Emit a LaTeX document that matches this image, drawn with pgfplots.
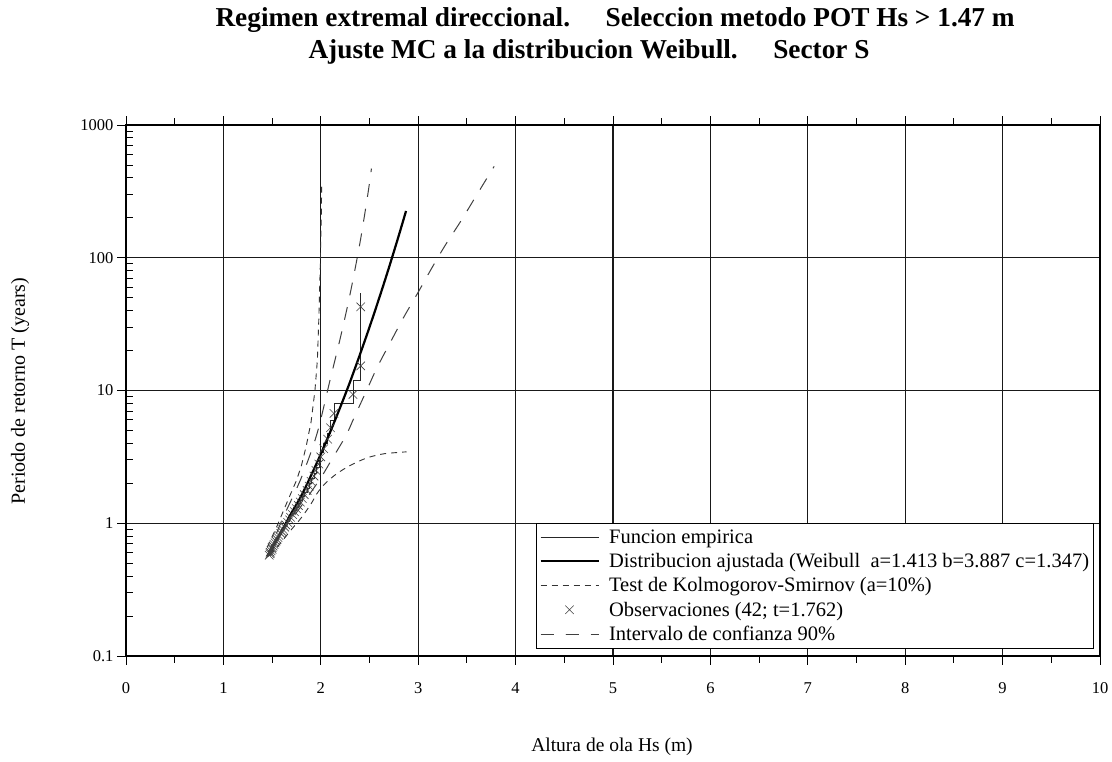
\documentclass[border=0pt]{standalone}
\usepackage{fontspec}
\setmainfont{Liberation Serif}
\usepackage{pgfplots}
\pgfplotsset{compat=1.18}
\begin{document}
\begin{tikzpicture}[x=1pt,y=1pt]
\useasboundingbox (-126,-106) rectangle (986,656);
\begin{axis}[
  at={(0,0)}, anchor=south west,
  width=974pt, height=531pt, scale only axis,
  xmin=0, xmax=10, ymin=0.1, ymax=1000, ymode=log,
  xtick={0,1,...,10}, xticklabels={0,1,2,3,4,5,6,7,8,9,10},
  minor xtick={0.5,1.5,...,9.5},
  ytick={0.1,1,10,100,1000}, yticklabels={0.1,1,10,100,1000},
  minor ytick={0.2,0.3,0.4,0.5,0.6,0.7,0.8,0.9,2,3,4,5,6,7,8,9,20,30,40,50,60,70,80,90,200,300,400,500,600,700,800,900},
  xtick pos=both, ytick pos=left,
  tick align=outside, major tick length=9pt, minor tick length=7pt,
  minor y tick style={xshift=7pt},
  tick style={black, line width=0.9pt},
  grid=major, major grid style={black!90, line width=1.3pt},
  minor grid style={draw=none},
  axis line style={black, line width=1.4pt},
  tick label style={font=\fontsize{16.5}{18}\selectfont},
  xticklabel style={yshift=-14pt},
  legend style={at={(0.9938,0.2505)}, anchor=north east, draw=black, line width=0.8pt,
    font=\fontsize{20.5}{22}\selectfont, inner xsep=3pt, inner ysep=5pt, row sep=5.5pt,
    nodes={inner sep=1.5pt},
    /tikz/every odd column/.append style={column sep=8pt}},
  legend cell align=left,
  legend image code/.code={\draw[mark repeat=2,mark phase=2,#1] plot coordinates {(0pt,0pt) (29pt,0pt) (58pt,0pt)};},
]
% Funcion empirica
\addplot[const plot, black!85, line width=0.7pt] coordinates {
(1.47,0.569) (1.47,0.583) (1.48,0.598) (1.48,0.613) (1.49,0.629) (1.50,0.646) (1.50,0.664)
(1.51,0.683) (1.52,0.703) (1.53,0.724) (1.54,0.747) (1.55,0.771) (1.56,0.797) (1.57,0.824)
(1.59,0.854) (1.60,0.885) (1.61,0.919) (1.63,0.956) (1.64,0.996) (1.66,1.039) (1.68,1.087)
(1.69,1.138) (1.71,1.195) (1.73,1.258) (1.75,1.328) (1.77,1.406) (1.79,1.494) (1.81,1.594)
(1.83,1.708) (1.86,1.839) (1.88,1.992) (1.90,2.173) (1.93,2.39) (1.95,2.656) (1.98,2.988)
(2.00,3.415) (2.03,3.98) (2.07,4.78) (2.10,5.98) (2.135,7.97) (2.33,11.95) (2.41,23.9) (2.41,54)};
\addlegendentry{Funcion empirica}
% Distribucion ajustada
\addplot[black, line width=2.2pt, smooth] coordinates {
(1.45,0.562) (1.50,0.66) (1.60,0.88) (1.70,1.2) (1.80,1.61) (1.90,2.29) (2.00,3.32) (2.10,4.94)
(2.20,7.49) (2.30,11.6) (2.40,18.5) (2.50,30.0) (2.60,49.8) (2.70,84.4) (2.80,146.5) (2.875,225)};
\addlegendentry{Distribucion ajustada (Weibull\ \ a=1.413 b=3.887 c=1.347)}
% Kolmogorov-Smirnov upper
\addplot[black!80, line width=0.9pt, dash pattern=on 6pt off 5pt] coordinates {
(1.45,0.66) (1.55,0.95) (1.65,1.42) (1.75,2.1) (1.80,2.7) (1.85,3.8) (1.90,5.8) (1.94,10)
(1.965,17) (1.98,35) (1.995,90) (2.005,200) (2.01,374)};
\addlegendentry{Test de Kolmogorov-Smirnov (a=10\%)}
% Observaciones
\addplot[only marks, mark=x, mark size=6pt, mark options={black!75, line width=0.6pt}] coordinates {
(2.41,42.69) (2.41,15.32) (2.33,9.338) (2.135,6.715) (2.10,5.242) (2.07,4.299) (2.03,3.644)
(2.00,3.162) (1.98,2.793) (1.95,2.501) (1.93,2.264) (1.90,2.068) (1.88,1.903) (1.86,1.763)
(1.83,1.642) (1.81,1.536) (1.79,1.444) (1.77,1.361) (1.75,1.288) (1.73,1.222) (1.71,1.163)
(1.69,1.109) (1.68,1.060) (1.66,1.015) (1.64,0.973) (1.63,0.935) (1.61,0.900) (1.60,0.867)
(1.59,0.837) (1.57,0.809) (1.56,0.782) (1.55,0.757) (1.54,0.734) (1.53,0.712) (1.52,0.692)
(1.51,0.672) (1.50,0.654) (1.50,0.636) (1.49,0.620) (1.48,0.604) (1.48,0.589) (1.47,0.575)};
\addlegendentry{Observaciones (42; t=1.762)}
% Intervalo de confianza upper
\addplot[black!75, line width=1pt, dash pattern=on 13pt off 12pt, smooth] coordinates {
(1.45,0.56) (1.6,1.05) (1.8,2.2) (1.96,4.7) (2.094,11.9) (2.2,24.8) (2.3,53) (2.4,127)
(2.48,291) (2.52,470)};
\addlegendentry{Intervalo de confianza 90\%}
% Kolmogorov-Smirnov lower
\addplot[forget plot, black!80, line width=0.9pt, dash pattern=on 6pt off 5pt, smooth] coordinates {
(1.48,0.57) (1.6,0.73) (1.7,0.9) (1.8,1.1) (1.9,1.4) (1.955,1.65) (2.01,1.87) (2.06,2.04)
(2.163,2.36) (2.30,2.72) (2.47,3.1) (2.64,3.33) (2.83,3.43) (2.88,3.45)};
% Intervalo de confianza lower
\addplot[forget plot, black!75, line width=1pt, dash pattern=on 13pt off 12pt, smooth] coordinates {
(1.45,0.56) (1.6,0.85) (1.8,1.35) (2.0,2.2) (2.11,3.0) (2.26,4.6) (2.34,6.2) (2.47,10.0)
(2.58,15.0) (2.72,23.5) (2.85,35.5) (3.0,55) (3.145,85) (3.28,125) (3.44,190) (3.61,305) (3.78,488)};
\end{axis}
\node[anchor=base west, font=\bfseries\fontsize{27.3}{30}\selectfont] at (86,629)
  {Regimen extremal direccional.\hspace{1.3em}Seleccion metodo POT Hs > 1.47 m};
\node[anchor=base west, font=\bfseries\fontsize{27.3}{30}\selectfont] at (179,597)
  {Ajuste MC a la distribucion Weibull.\hspace{1.3em}Sector S};
\node[rotate=90, anchor=center, font=\fontsize{20}{22}\selectfont] at (-106,265)
  {Periodo de retorno T (years)};
\node[anchor=base, font=\fontsize{19.5}{21}\selectfont] at (486,-96)
  {Altura de ola Hs (m)};
\end{tikzpicture}
\end{document}
